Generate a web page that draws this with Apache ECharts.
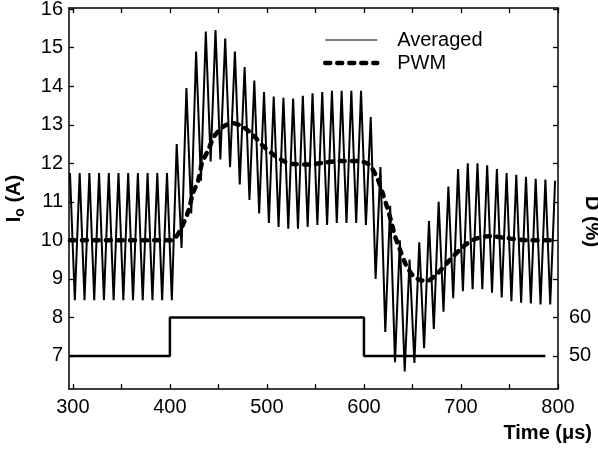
<!DOCTYPE html>
<html><head><meta charset="utf-8">
<script src="https://cdn.jsdelivr.net/npm/echarts@6/dist/echarts.min.js"></script>
<style>html,body{margin:0;padding:0;background:#fff}#c{width:598px;height:451px}</style>
</head><body><div id="c"></div>
<script>
// ---- data ----
const peakTimes = [297,307,317,327,337,347,357,367,377,387,397,407,417,427,437,447,457,467,477,487,497,507,517,527,537,547,557,567,577,587,597,607,617,627,637,647,657,667,677,687,697,707,717,727,737,747,757,767,777,787,797];
const peakValues = [11.75,11.75,11.75,11.75,11.75,11.75,11.75,11.75,11.75,11.75,11.75,12.5,13.95,14.9,15.42,15.46,15.24,14.9,14.5,14.15,13.85,13.73,13.7,13.68,13.75,13.82,13.85,13.88,13.88,13.88,13.88,13.2,11.9,10.9,10.0,9.5,9.95,10.5,11.0,11.4,11.85,12.0,12.0,11.95,11.85,11.75,11.7,11.65,11.6,11.58,11.55];
const troughTimes = [302,312,322,332,342,352,362,372,382,392,402,412,422,432,442,452,462,472,482,492,502,512,522,532,542,552,562,572,582,592,602,612,622,632,642,652,662,672,682,692,702,712,722,732,742,752,762,772,782,792];
const troughValues = [8.45,8.45,8.45,8.45,8.45,8.45,8.45,8.45,8.45,8.45,8.45,9.8,10.7,11.55,12.05,12.1,11.9,11.45,11.05,10.7,10.45,10.35,10.3,10.3,10.35,10.4,10.4,10.45,10.45,10.45,10.4,9.0,7.62,6.84,6.6,6.82,7.2,7.7,8.15,8.5,8.68,8.73,8.73,8.64,8.52,8.42,8.38,8.36,8.34,8.34];
const pwmTimes = [297,400,405,412,419,424,429,433,439,446,455,465,475,485,496,508,518,527,544,560,575,592,600,606,614,619,624,628,632,637,643,651,658,665,672,678,689,701,714,730,744,756,773,795];
const pwmValues = [10.0,10.0,10.05,10.33,10.76,11.24,11.54,12.0,12.32,12.71,12.95,13.04,12.95,12.75,12.45,12.2,12.05,11.98,11.97,12.02,12.06,12.06,12.03,11.95,11.6,11.24,10.85,10.5,10.11,9.77,9.38,9.07,8.97,8.95,9.05,9.2,9.5,9.81,10.03,10.11,10.07,10.03,10.0,10.0];
const dutyTimes = [296,400,400,600,600,787];
const dutyValues = [50,50,60,60,50,50];
const xTicks = [300,350,400,450,500,550,600,650,700,750,800];
const xLabels = [300,400,500,600,700,800];
const yTicks = [7,8,9,10,11,12,13,14,15,16];
const dTicks = [50,60,70,80,90,100,110,120,130,140];
const dLabels = [50,60];

const xMin = 296, xMax = 800, yMin = 6.143, yMax = 16.03;
// right axis: 50 % sits at 7 A, 60 % at 8 A
const dMin = 50 + (yMin - 7) * 10, dMax = 50 + (yMax - 7) * 10;

const FONT = 'Liberation Sans, Arial, Helvetica, sans-serif';
const ripple = [];
peakTimes.forEach((t, i) => ripple.push([t, peakValues[i]]));
troughTimes.forEach((t, i) => ripple.push([t, troughValues[i]]));
ripple.sort((a, b) => a[0] - b[0]);
const pwm = pwmTimes.map((t, i) => [t, pwmValues[i]]);
const duty = dutyTimes.map((t, i) => [t, dutyValues[i]]);

const axisLine = {show: true, lineStyle: {color: '#000', width: 1.5}};
const tick = (vals) => ({show: true, inside: true, length: 5, customValues: vals, lineStyle: {color: '#000', width: 1.3}});
const pwmLine = {color: '#000', width: 4.5, type: [5, 7], cap: 'round'};

const chart = echarts.init(document.getElementById('c'), null, {renderer: 'canvas'});
chart.setOption({
  animation: false,
  backgroundColor: '#fff',
  textStyle: {fontFamily: FONT},
  grid: {left: 69, right: 40, top: 8, bottom: 62, containLabel: false, outerBoundsMode: 'none'},
  legend: {
    data: [
      {name: 'Averaged', lineStyle: {color: '#000', width: 1.2}},
      {name: 'PWM', lineStyle: pwmLine}
    ],
    orient: 'vertical', left: 323, top: 30, padding: 0,
    itemWidth: 52, itemHeight: 14, itemGap: 3,
    itemStyle: {opacity: 0},
    textStyle: {fontSize: 20, color: '#000', fontFamily: FONT, padding: [0, 0, 0, 15]}
  },
  xAxis: [{
    type: 'value', min: xMin, max: xMax, position: 'bottom',
    axisLine, splitLine: {show: false},
    axisTick: tick(xTicks),
    axisLabel: {customValues: xLabels, fontSize: 20, color: '#000', margin: 8, fontFamily: FONT},
    name: 'Time (μs)', nameLocation: 'end', nameGap: 34, nameMoveOverlap: false,
    nameTextStyle: {fontSize: 20, fontWeight: 'bold', color: '#000', align: 'right', verticalAlign: 'top', padding: [34, 0, 0, 0], fontFamily: FONT}
  }, {
    type: 'value', min: xMin, max: xMax, position: 'top',
    axisLine, splitLine: {show: false}, axisLabel: {show: false},
    axisTick: tick(xTicks)
  }],
  yAxis: [{
    type: 'value', min: yMin, max: yMax, position: 'left',
    axisLine, splitLine: {show: false},
    axisTick: tick(yTicks),
    axisLabel: {customValues: yTicks, fontSize: 20, color: '#000', margin: 6, fontFamily: FONT},
    name: '{b|I}{s|o}{b| (A)}', nameLocation: 'middle', nameGap: 42, nameRotate: 90, nameMoveOverlap: false,
    nameTextStyle: {
      rich: {
        b: {fontSize: 20, fontWeight: 'bold', color: '#000', lineHeight: 26, fontFamily: FONT},
        s: {fontSize: 14, fontWeight: 'bold', color: '#000', lineHeight: 16, verticalAlign: 'bottom', fontFamily: FONT}
      }
    }
  }, {
    type: 'value', min: dMin, max: dMax, position: 'right',
    axisLine, splitLine: {show: false},
    axisTick: tick(dTicks),
    axisLabel: {customValues: dLabels, fontSize: 20, color: '#000', margin: 11, fontFamily: FONT},
    name: 'D (%)', nameLocation: 'middle', nameGap: 24, nameRotate: -90, nameMoveOverlap: false,
    nameTextStyle: {fontSize: 20, fontWeight: 'bold', color: '#000', fontFamily: FONT, padding: [0, 0, 0, 46]}
  }],
  series: [{
    name: 'Averaged', type: 'line', data: ripple, symbol: 'none', xAxisIndex: 0, yAxisIndex: 0,
    lineStyle: {color: '#000', width: 2}, itemStyle: {color: '#000'}, clip: true
  }, {
    name: 'PWM', type: 'line', data: pwm, symbol: 'none', smooth: 0.3, xAxisIndex: 0, yAxisIndex: 0,
    lineStyle: pwmLine, itemStyle: {color: '#000'}, z: 3
  }, {
    name: 'Duty', type: 'line', data: duty, symbol: 'none', xAxisIndex: 0, yAxisIndex: 1,
    lineStyle: {color: '#000', width: 2.5}, itemStyle: {color: '#000'}
  }]
});
</script></body></html>
